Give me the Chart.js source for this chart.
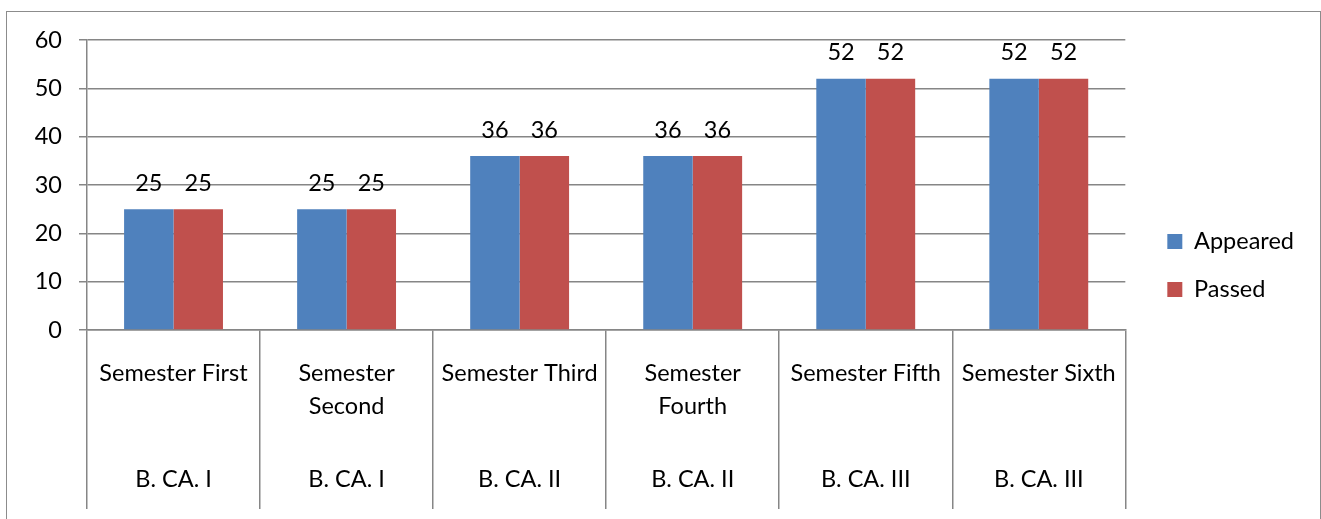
<!DOCTYPE html>
<html>
<head>
<meta charset="utf-8">
<script src="https://cdn.jsdelivr.net/npm/chart.js@4"></script>
<style>
  html, body { margin: 0; padding: 0; background: #fff; }
  #frame { position: absolute; left: 6px; top: 11px; width: 1313px; height: 520px; border: 1px solid #8c8c8c; border-bottom: none; }
  #wrap { position: absolute; left: 0; top: 0; width: 1321px; height: 519px; }
</style>
</head>
<body>
<div id="frame"></div>
<div id="wrap"><canvas id="myChart"></canvas></div>
<script>
// Semester labels (first level) and course labels (second level)
const semesters = ['Semester First', ['Semester', 'Second'], 'Semester Third', ['Semester', 'Fourth'], 'Semester Fifth', 'Semester Sixth'];
const courses = ['B. CA. I', 'B. CA. I', 'B. CA. II', 'B. CA. II', 'B. CA. III', 'B. CA. III'];
const appeared = [25, 25, 36, 36, 52, 52];
const passed = [25, 25, 36, 36, 52, 52];
const yTicks = [0, 10, 20, 30, 40, 50, 60];

const FONT = 'Lato, "Open Sans", sans-serif';
const SIZE = 23.5;
const GRID = '#868686';

// Value labels above each bar, placed from the bar elements
const barLabels = {
    id: 'barLabels',
    afterDatasetsDraw(chart) {
        const ctx = chart.ctx;
        ctx.save();
        ctx.font = SIZE + 'px ' + FONT;
        ctx.fillStyle = '#000';
        ctx.textAlign = 'center';
        ctx.textBaseline = 'middle';
        chart.data.datasets.forEach((ds, i) => {
            chart.getDatasetMeta(i).data.forEach((bar, j) => {
                ctx.fillText(String(ds.data[j]), bar.x, bar.y - 26);
            });
        });
        ctx.restore();
    }
};

// empty axis used only as spacing
const spacer = (position, size) => ({
    type: 'linear',
    position: position,
    display: true,
    grid: { display: false },
    border: { display: false },
    ticks: { display: false },
    afterFit: s => { if (position === 'top') s.height = size; else s.width = size; }
});

const ctx = document.getElementById('myChart').getContext('2d');
new Chart(ctx, {
    type: 'bar',
    data: {
        labels: semesters,
        datasets: [{
            label: 'Appeared',
            data: appeared,
            backgroundColor: '#4F81BD',
            borderWidth: 0,
        }, {
            label: 'Passed',
            data: passed,
            backgroundColor: '#C0504D',
            borderWidth: 0,
        }]
    },
    options: {
        responsive: true,
        maintainAspectRatio: false,
        animation: false,
        layout: { padding: { left: 7, top: 22, right: 17, bottom: 10 } },
        datasets: { bar: { barPercentage: 1, categoryPercentage: 2 / 3.5 } },
        plugins: {
            legend: {
                position: 'right',
                labels: {
                    font: { family: FONT, size: SIZE },
                    color: '#000',
                    boxWidth: 15,
                    boxHeight: 15,
                    padding: 24.5,
                }
            },
            tooltip: { enabled: false },
        },
        scales: {
            x: {
                type: 'category',
                offset: true,
                weight: 0,
                grid: { offset: true, drawOnChartArea: false, tickLength: 106, color: GRID, lineWidth: 1.5 },
                border: { display: true, color: GRID, width: 1.5 },
                ticks: { font: { family: FONT, size: SIZE, lineHeight: 1.4 }, color: '#000', padding: -79, maxRotation: 0, autoSkip: false },
                afterFit: s => { s.height = 106; }
            },
            x2: {
                type: 'category',
                labels: courses,
                position: 'bottom',
                offset: true,
                weight: 1,
                grid: { offset: true, drawOnChartArea: false, tickLength: 73, color: GRID, lineWidth: 1.5 },
                border: { display: false },
                ticks: { font: { family: FONT, size: SIZE }, color: '#000', padding: -44, maxRotation: 0, autoSkip: false },
                afterFit: s => { s.height = 73; }
            },
            y: {
                min: 0,
                max: 60,
                afterBuildTicks: s => { s.ticks = yTicks.map(v => ({ value: v })); },
                grid: { color: GRID, lineWidth: 1.5, tickLength: 8 },
                border: { display: true, color: GRID, width: 1.5 },
                ticks: { font: { family: FONT, size: SIZE }, color: '#000', padding: 17 },
                afterFit: s => { s.width = 80; }
            },
            padTop: spacer('top', 18),
            padRight: spacer('right', 17.5)
        }
    },
    plugins: [barLabels]
});
</script>
</body>
</html>
